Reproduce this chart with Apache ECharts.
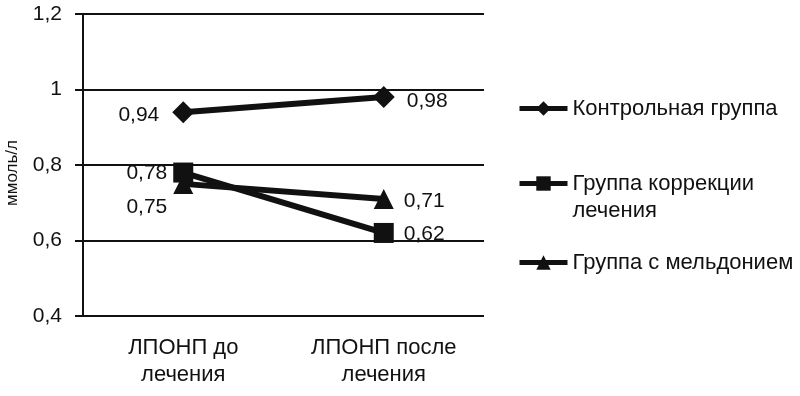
<!DOCTYPE html>
<html><head><meta charset="utf-8">
<script src="https://cdn.jsdelivr.net/npm/echarts@6/dist/echarts.min.js"></script>
<style>html,body{margin:0;padding:0;background:#fff}#c{width:800px;height:396px}</style>
</head><body><div id="c"></div>
<script>
const categories = ['ЛПОНП до\nлечения', 'ЛПОНП после\nлечения'];
const seriesNames = ['Контрольная группа', 'Группа коррекции\nлечения', 'Группа с мельдонием'];
const control = [0.94, 0.98];
const correction = [0.78, 0.62];
const meldonium = [0.75, 0.71];
const yTicks = [0.4, 0.6, 0.8, 1.0, 1.2];

const font = 'Liberation Sans, Arial, sans-serif';
const ink = '#111';
const fmt = v => String(v).replace('.', ',');
const lbl = (pos, dist, off) => ({show: true, position: pos, distance: dist, offset: off, fontSize: 21, color: ink, fontFamily: font, formatter: p => fmt(p.value)});

const chart = echarts.init(document.getElementById('c'));
chart.setOption({
  animation: false,
  backgroundColor: '#fff',
  grid: {left: 83, right: 316, top: 14, bottom: 80, containLabel: false, outerBoundsMode: 'none'},
  xAxis: {
    type: 'category', data: categories, boundaryGap: true,
    axisLine: {show: false}, axisTick: {show: false},
    axisLabel: {fontSize: 22, color: ink, fontFamily: font, lineHeight: 27, margin: 18}
  },
  yAxis: {
    type: 'value', min: 0.4, max: 1.2, interval: 0.2,
    name: 'ммоль/л', nameLocation: 'middle', nameGap: 62, nameRotate: 90,
    nameTextStyle: {fontSize: 17, color: ink, fontFamily: font, padding: [0, 16, 0, 0]},
    axisLine: {show: true, lineStyle: {color: ink, width: 2}},
    axisTick: {show: true, length: 8, lineStyle: {color: ink, width: 2}},
    splitLine: {show: true, lineStyle: {color: ink, width: 2}},
    axisLabel: {fontSize: 21, color: ink, fontFamily: font, margin: 21,
      formatter: v => { const t = yTicks.find(x => Math.abs(x - v) < 1e-9); return fmt(+(t ?? v).toFixed(1)); }}
  },
  legend: [0, 1, 2].map(i => ({
    data: [seriesNames[i]], left: 512, top: [90, 138, 244][i],
    itemWidth: 48, itemHeight: 18, itemGap: 6,
    lineStyle: {width: 5},
    formatter: n => (i === 1 ? '\n' + n : n),
    textStyle: {fontSize: 22, color: ink, fontFamily: font, lineHeight: 27},
    selectedMode: false
  })),
  series: [
    {name: seriesNames[0], type: 'line', symbol: 'diamond', symbolSize: 22,
     data: [{value: control[0], label: lbl('left', 13, [0, 3])}, {value: control[1], label: lbl('right', 12, [0, 4])}],
     lineStyle: {color: ink, width: 6}, itemStyle: {color: ink}, emphasis: {disabled: true}},
    {name: seriesNames[1], type: 'line', symbol: 'rect', symbolSize: 20,
     data: [{value: correction[0], label: lbl('left', 6, [0, 1])}, {value: correction[1], label: lbl('right', 10, [0, 1])}],
     lineStyle: {color: ink, width: 6}, itemStyle: {color: ink}, emphasis: {disabled: true}},
    {name: seriesNames[2], type: 'line', symbol: 'triangle', symbolSize: 20,
     data: [{value: meldonium[0], label: lbl('left', 6, [0, 23])}, {value: meldonium[1], label: lbl('right', 10, [0, 2])}],
     lineStyle: {color: ink, width: 6}, itemStyle: {color: ink}, emphasis: {disabled: true}}
  ]
});
</script></body></html>
